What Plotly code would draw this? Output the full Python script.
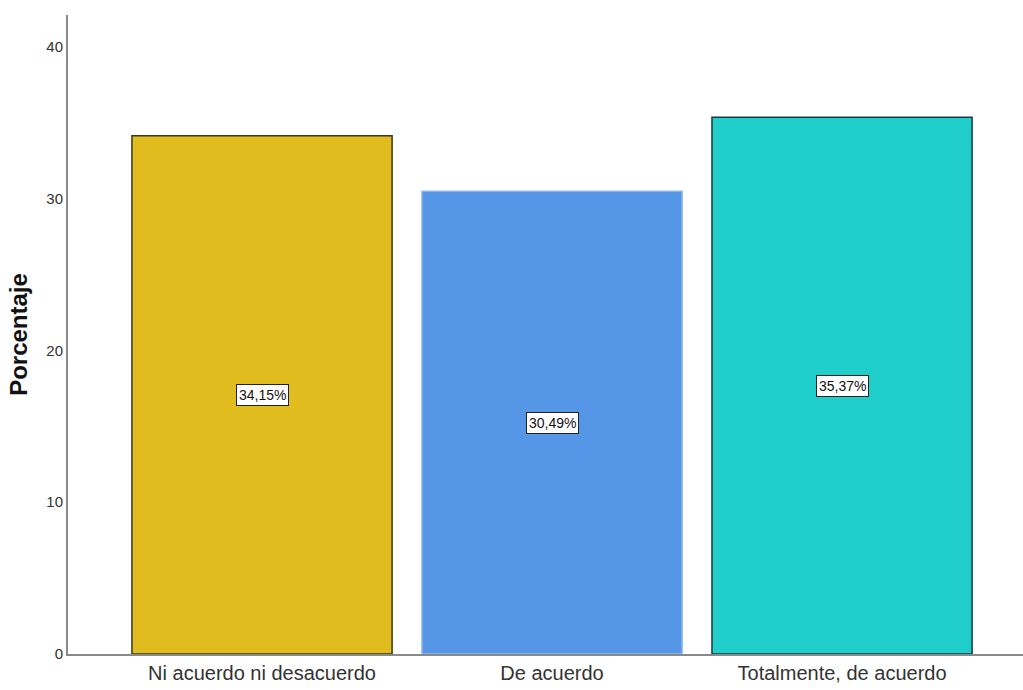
import plotly.graph_objects as go

categories = ["Ni acuerdo ni desacuerdo", "De acuerdo", "Totalmente, de acuerdo"]
percentages = [34.15, 30.49, 35.37]
bar_colors = ["#E0BC1E", "#5596E6", "#1FCDCB"]
edge_colors = ["#3b3520", "#8fb6ea", "#1d3b3a"]
y_ticks = [0, 10, 20, 30, 40]

narrow = "Liberation Sans Narrow, Arial Narrow, Liberation Sans, Arial, sans-serif"

fig = go.Figure(
    go.Bar(
        x=categories,
        y=percentages,
        width=0.897,
        marker=dict(color=bar_colors, line=dict(color=edge_colors, width=1.5)),
        hoverinfo="skip",
    )
)

# value labels boxed in the middle of each bar
for cat, val in zip(categories, percentages):
    fig.add_annotation(
        x=cat,
        y=val / 2,
        text=f"{val:.2f}%".replace(".", ","),
        showarrow=False,
        font=dict(family=narrow, size=14, color="#111111"),
        bgcolor="white",
        bordercolor="#222222",
        borderwidth=1,
        borderpad=2,
    )

fig.update_layout(
    width=1023,
    height=690,
    margin=dict(l=68, r=0, t=15, b=36),
    paper_bgcolor="white",
    plot_bgcolor="white",
    showlegend=False,
    xaxis=dict(
        range=[-0.669, 2.624],
        showline=True,
        linecolor="#8a8a8a",
        linewidth=2,
        ticks="",
        showgrid=False,
        tickfont=dict(family=narrow, size=20, color="#333333"),
    ),
    yaxis=dict(
        range=[0, 42.1],
        tickvals=y_ticks,
        showline=True,
        linecolor="#8a8a8a",
        linewidth=2,
        ticks="",
        showgrid=False,
        zeroline=False,
        tickfont=dict(family=narrow, size=15, color="#333333"),
        title=dict(
            text="<b>Porcentaje</b>",
            font=dict(family="Liberation Sans, Arial, sans-serif", size=24, color="#111111"),
            standoff=12,
        ),
    ),
)

fig.write_html("out.html")
